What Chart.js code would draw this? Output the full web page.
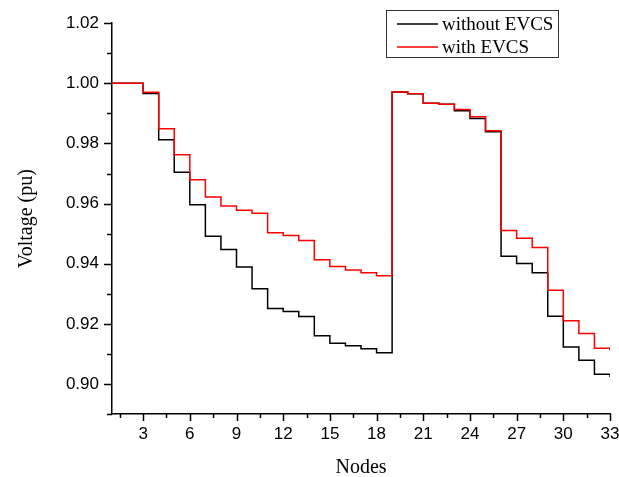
<!DOCTYPE html>
<html>
<head>
<meta charset="utf-8">
<title>Voltage profile</title>
<script src="https://cdn.jsdelivr.net/npm/chart.js@4.4.0/dist/chart.umd.min.js"></script>
<style>
  html, body { margin: 0; padding: 0; background: #fff; }
</style>
</head>
<body>
<canvas id="grafico" width="619" height="477"></canvas>
<script>
// ── Dados ──
const nodes = [1, 2, 3, 4, 5, 6, 7, 8, 9, 10, 11, 12, 13, 14, 15, 16, 17,
  18, 19, 20, 21, 22, 23, 24, 25, 26, 27, 28, 29, 30, 31, 32, 33];

const semEVCS = [1.0000, 1.0000, 0.9966, 0.9812, 0.9704, 0.9596, 0.9491,
  0.9447, 0.9389, 0.9317, 0.9251, 0.9241, 0.9224, 0.9160, 0.9135, 0.9127,
  0.9117, 0.9104, 0.9971, 0.9965, 0.9934, 0.9930, 0.9909, 0.9883, 0.9839,
  0.9425, 0.9401, 0.9370, 0.9225, 0.9123, 0.9079, 0.9032, 0.9023];

const comEVCS = [1.0000, 1.0000, 0.9970, 0.9849, 0.9762, 0.9679, 0.9622,
  0.9592, 0.9578, 0.9568, 0.9503, 0.9494, 0.9477, 0.9413, 0.9391, 0.9379,
  0.9370, 0.9360, 0.9971, 0.9965, 0.9934, 0.9930, 0.9913, 0.9889, 0.9842,
  0.9510, 0.9485, 0.9454, 0.9312, 0.9210, 0.9168, 0.9119, 0.9111];

const xTickLabels = [3, 6, 9, 12, 15, 18, 21, 24, 27, 30, 33];
const yTickLabels = [0.90, 0.92, 0.94, 0.96, 0.98, 1.00, 1.02];

const seriesNames = ["without EVCS", "with EVCS"];
const seriesColors = ["#000000", "#ff0000"];

// ticks menores: x a cada 1.5, y a cada 0.01
const xTicksAll = [];
for (let v = 1.5; v <= 33; v += 1.5) xTicksAll.push(v);
const yTicksAll = [];
for (let i = 0; i <= 13; i++) yTicksAll.push(Math.round((0.89 + i * 0.01) * 100) / 100);

const isYLabel = (v) => yTickLabels.some((t) => Math.abs(t - v) < 1e-6);

const toPoints = (arr) => nodes.map((n, i) => ({ x: n, y: arr[i] }));

// ── Marcas de tick (maiores/menores, para fora) ──
const tickMarks = {
  id: "tickMarks",
  afterDraw(chart) {
    const { ctx, chartArea, scales } = chart;
    ctx.save();
    ctx.strokeStyle = "#000";
    ctx.lineWidth = 1.5;
    scales.x.ticks.forEach((t) => {
      const px = Math.round(scales.x.getPixelForValue(t.value)) + 0.5;
      const len = xTickLabels.includes(t.value) ? 7 : 4;
      ctx.beginPath();
      ctx.moveTo(px, chartArea.bottom);
      ctx.lineTo(px, chartArea.bottom + len);
      ctx.stroke();
    });
    scales.y.ticks.forEach((t) => {
      const py = Math.round(scales.y.getPixelForValue(t.value)) + 0.5;
      const len = isYLabel(t.value) ? 8 : 5;
      ctx.beginPath();
      ctx.moveTo(chartArea.left, py);
      ctx.lineTo(chartArea.left - len, py);
      ctx.stroke();
    });
    ctx.restore();
  },
};

// ── Legenda com moldura dentro da área do gráfico ──
const legendaBox = {
  id: "legendaBox",
  afterDraw(chart) {
    const { ctx } = chart;
    const x0 = 386, y0 = 10, w = 172, h = 47;
    ctx.save();
    ctx.fillStyle = "#fff";
    ctx.fillRect(x0, y0, w, h);
    ctx.strokeStyle = "#333";
    ctx.lineWidth = 1;
    ctx.strokeRect(x0 + 0.5, y0 + 0.5, w, h);
    ctx.font = "19px 'Liberation Serif', 'Times New Roman', serif";
    ctx.textBaseline = "middle";
    seriesNames.forEach((name, i) => {
      const cy = 24 + i * 23;
      ctx.strokeStyle = seriesColors[i];
      ctx.lineWidth = 1.5;
      ctx.beginPath();
      ctx.moveTo(397, cy);
      ctx.lineTo(438, cy);
      ctx.stroke();
      ctx.fillStyle = "#000";
      ctx.fillText(name, 442, cy + 1);
    });
    ctx.restore();
  },
};

const ctx = document.getElementById("grafico").getContext("2d");

new Chart(ctx, {
  type: "line",
  data: {
    datasets: [
      {
        label: seriesNames[0],
        data: toPoints(semEVCS),
        borderColor: seriesColors[0],
        borderWidth: 1.5,
        stepped: true,
        pointRadius: 0,
        fill: false,
        order: 1,
      },
      {
        label: seriesNames[1],
        data: toPoints(comEVCS),
        borderColor: seriesColors[1],
        borderWidth: 1.5,
        stepped: true,
        pointRadius: 0,
        fill: false,
        order: 0,
      },
    ],
  },
  options: {
    responsive: false,
    animation: false,
    layout: { padding: { top: 22, right: 9, bottom: 0, left: 0 } },
    plugins: {
      legend: { display: false },
      tooltip: { enabled: false },
    },
    scales: {
      x: {
        type: "linear",
        min: 1,
        max: 33,
        afterBuildTicks(scale) {
          scale.ticks = xTicksAll.map((v) => ({ value: v }));
        },
        afterFit(scale) {
          scale.height = 63;
          scale.paddingLeft = 0;
          scale.paddingRight = 0;
        },
        grid: { display: true, drawOnChartArea: false, drawTicks: false },
        border: { display: true, color: "#000", width: 1.5 },
        ticks: {
          color: "#000",
          padding: 10,
          maxRotation: 0,
          autoSkip: false,
          font: { family: "'Liberation Sans', Arial, sans-serif", size: 17 },
          callback: (v) => (xTickLabels.includes(v) ? String(v) : ""),
        },
        title: {
          display: true,
          text: "Nodes",
          color: "#000",
          font: { family: "'Liberation Serif', 'Times New Roman', serif", size: 20, lineHeight: 1 },
          padding: { top: 0, bottom: -1 },
        },
      },
      y: {
        min: 0.89,
        max: 1.02,
        afterBuildTicks(scale) {
          scale.ticks = yTicksAll.map((v) => ({ value: v }));
        },
        afterFit(scale) {
          scale.width = 112;
        },
        grid: { display: true, drawOnChartArea: false, drawTicks: false },
        border: { display: true, color: "#000", width: 1.5 },
        ticks: {
          color: "#000",
          padding: 13,
          autoSkip: false,
          font: { family: "'Liberation Sans', Arial, sans-serif", size: 17 },
          callback: (v) => (isYLabel(v) ? v.toFixed(2) : ""),
        },
        title: {
          display: true,
          text: "Voltage (pu)",
          color: "#000",
          font: { family: "'Liberation Serif', 'Times New Roman', serif", size: 20, lineHeight: 1 },
          padding: { top: 17, bottom: 17 },
        },
      },
    },
  },
  plugins: [tickMarks, legendaBox],
});
</script>
</body>
</html>
